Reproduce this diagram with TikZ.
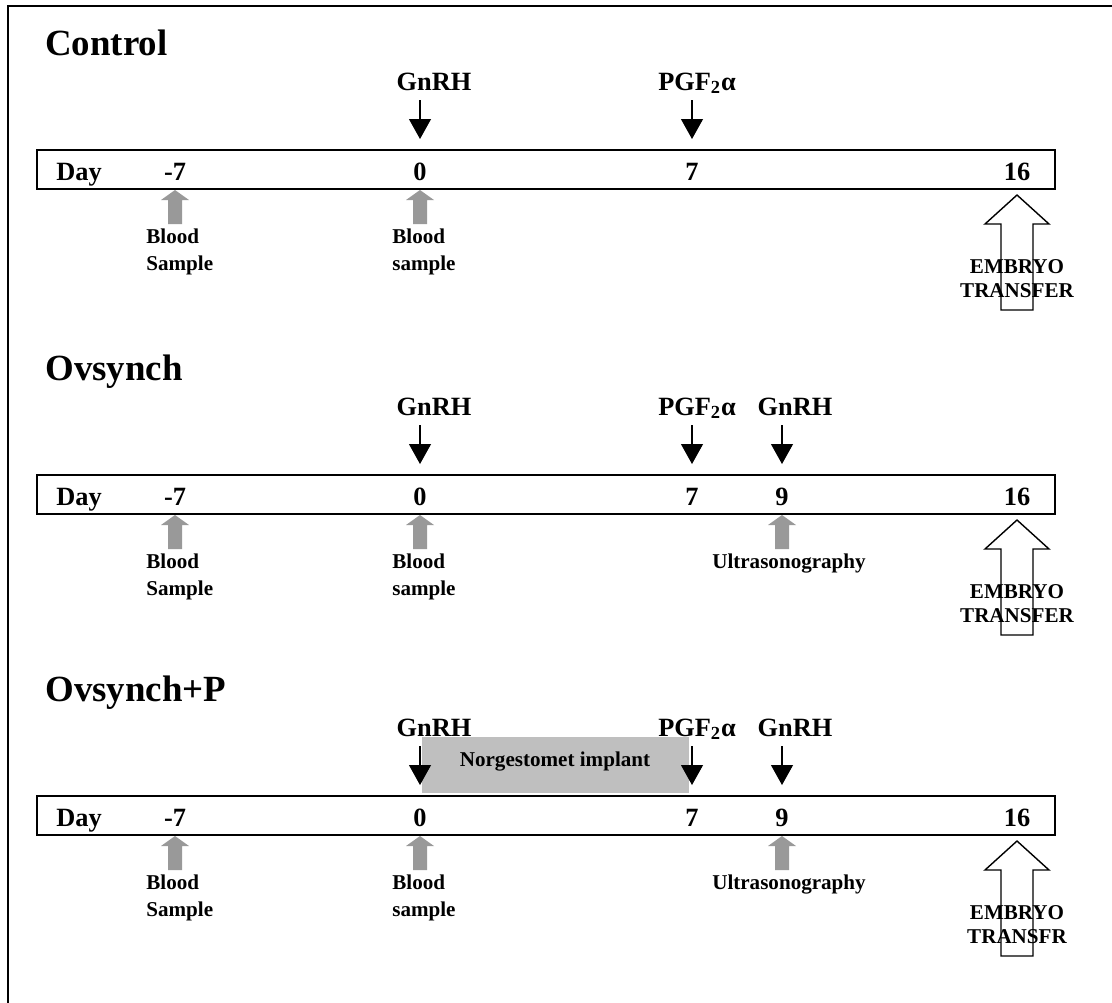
\documentclass[tikz,border=0pt]{standalone}
\usepackage{fontspec}
\setmainfont{Liberation Serif}
\usetikzlibrary{arrows.meta}

\begin{document}
\begin{tikzpicture}[x=0.02cm,y=-0.02cm,
    title/.style={anchor=base west,inner sep=0,font=\fontsize{21}{25}\selectfont\bfseries},
    daylbl/.style={anchor=base,inner sep=0,font=\fontsize{15}{18}\selectfont\bfseries},
    note/.style={anchor=base west,inner sep=0,align=left,font=\fontsize{12}{15.3}\selectfont\bfseries},
    etlbl/.style={anchor=base,inner sep=0,align=center,font=\fontsize{12}{13.4}\selectfont\bfseries},
    blk/.style={-{Triangle[width=0.44cm,length=0.4cm]},line width=0.6pt},
    daybox/.style={line width=1.1pt},
    grayup/.pic={\fill[gray!80] (0,0)--(14,10)--(7,10)--(7,34)--(-7,34)--(-7,10)--(-14,10)--cycle;},
    bigup/.pic={\draw[line width=0.8pt] (0,0)--(32,29)--(16,29)--(16,115)--(-16,115)--(-16,29)--(-32,29)--cycle;}]
  \useasboundingbox (0,0) rectangle (1112,1002);
  \draw[line width=1.2pt] (8,1010) -- (8,6) -- (1120,6);

  % parts shared by the three schedules
  \foreach \s/\sy/\ttl/\tr in {c/0/Control/TRANSFER,o/325/Ovsynch/TRANSFER,p/646/Ovsynch+P/TRANSFR}{
    \begin{scope}[shift={(0,\sy)},name prefix=\s-]
      \node[title] (head) at (45,55) {\ttl};
      \draw[daybox] (37,150) rectangle (1055,189);
      \node[daylbl,anchor=base west] (day) at (56,180) {Day};
      \foreach \n/\d/\x in {m7/-7/175,d0/0/420,d7/7/692,d16/16/1017}
        \node[daylbl] (\n) at (\x,180) {\d};
      \coordinate (tip) at (0,139);
      \coordinate (gnrh) at (420,100);
      \coordinate (pgf) at (692,100);
      \node[daylbl] (gnrhlbl) at (434,90) {GnRH};
      \node[daylbl] (pgflbl) at (697,90) {PGF\textsubscript{2}α};
      \pic at (175,190) {grayup};
      \pic at (420,190) {grayup};
      \node[note] (bs1) at (146,270) {Blood\\Sample};
      \node[note] (bs2) at (392,270) {Blood\\sample};
      \node[etlbl] (et) at (1017,297) {EMBRYO\\\tr};
      \pic at (1017,195) {bigup};
    \end{scope}
  }

  % Ovsynch and Ovsynch+P: second GnRH and ultrasonography on day 9
  \foreach \s/\sy in {o/325,p/646}{
    \begin{scope}[shift={(0,\sy)},name prefix=\s-]
      \node[daylbl] (d9) at (782,180) {9};
      \coordinate (gnrh2) at (782,100);
      \node[daylbl] (gnrh2lbl) at (795,90) {GnRH};
      \pic at (782,190) {grayup};
      \node[note,anchor=base] (us) at (789,243) {Ultrasonography};
    \end{scope}
  }

  % Ovsynch+P: implant from day 0 to day 7
  \begin{scope}[shift={(0,646)},name prefix=p-]
    \fill[gray!50] (422,91) rectangle (689,147);
    \node[note,anchor=base] (implant) at (555,120) {Norgestomet implant};
  \end{scope}

  % injection arrows
  \foreach \s in {c,o,p}{
    \draw[blk] (\s-gnrh) -- (\s-gnrh |- \s-tip);
    \draw[blk] (\s-pgf) -- (\s-pgf |- \s-tip);
  }
  \foreach \s in {o,p}
    \draw[blk] (\s-gnrh2) -- (\s-gnrh2 |- \s-tip);
\end{tikzpicture}
\end{document}
